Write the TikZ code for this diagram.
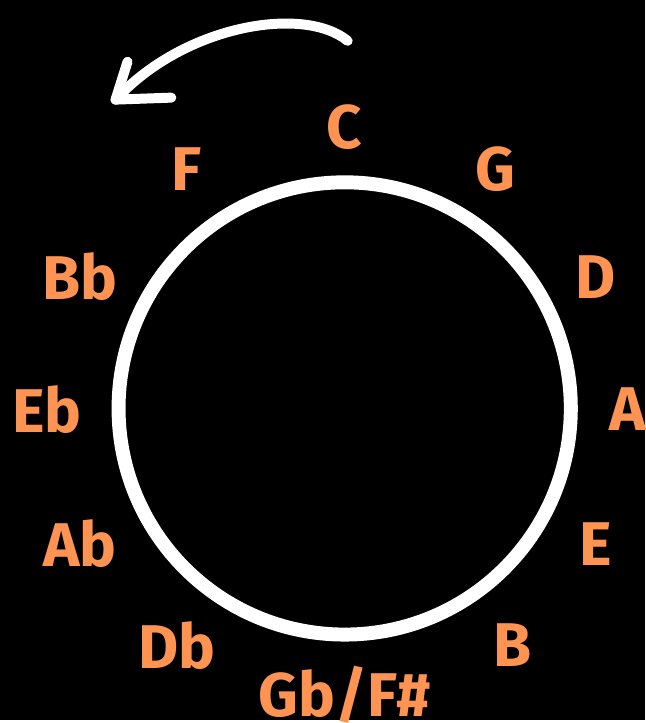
\documentclass[tikz,border=0pt]{standalone}
\usepackage{fontspec}
\setsansfont{Fira Sans}
\usetikzlibrary{positioning}
\definecolor{keyorange}{RGB}{255,148,82}
\tikzset{
    keylbl/.style={font=\sffamily\bfseries\fontsize{62}{70}\selectfont, text=keyorange, inner sep=0pt, anchor=center},
    ring/.style={draw=white, line width=14pt},
    swoosh/.style={draw=white, line width=10pt, line cap=round, line join=round}
}
\begin{document}
\begin{tikzpicture}[x=1pt, y=-1pt]
    \fill[black] (0,0) rectangle (647,723);
    % circle of fifths
    \draw[ring] (346,410) circle (227);
    \node[keylbl] (c)  at (346,128) {C};
    \node[keylbl] (g)  at (497,170) {G};
    \node[keylbl] (d)  at (598,278) {D};
    \node[keylbl] (a)  at (630,411) {A};
    \node[keylbl] (e)  at (598,546) {E};
    \node[keylbl] (b)  at (515,648) {B};
    \node[keylbl] (gb) at (346,697) {Gb/F\#};
    \node[keylbl] (db) at (178,648) {Db};
    \node[keylbl] (ab) at (80,546)  {Ab};
    \node[keylbl] (eb) at (47,411)  {Eb};
    \node[keylbl] (bb) at (80,278)  {Bb};
    \node[keylbl] (f)  at (187,170) {F};
    % direction arrow
    \coordinate (tail) at (349,41);
    \coordinate (tip) at (116,100);
    \draw[swoosh] (tail) .. controls (305,5) and (185,25) .. (tip);
    \draw[swoosh] (128,62) -- (tip) -- (172,98);
\end{tikzpicture}
\end{document}
